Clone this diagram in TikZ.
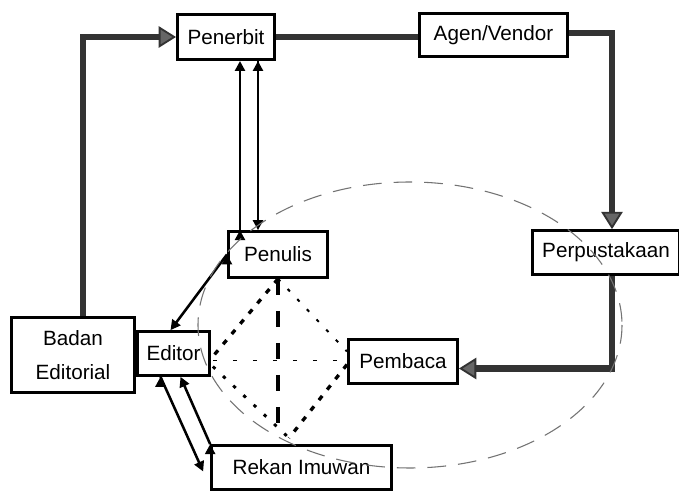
\documentclass[tikz,border=0pt]{standalone}
\usepackage{fontspec}
\setmainfont{Liberation Sans}
\usetikzlibrary{arrows.meta,calc}

\begin{document}
\begin{tikzpicture}[x=0.75pt, y=-0.75pt, line join=miter,
    box/.style = {draw, line width=2pt, inner sep=2pt, font=\fontsize{15.5}{25}\selectfont},
    flowline/.style = {draw=black!80, line width=4.6pt},
    flow/.style = {flowline, -{Triangle[length=13pt,width=16pt,line width=1.4pt,fill=black!60]}},
    link/.style = {draw, line width=1.9pt, -{Triangle[length=7.5pt,width=7.5pt]}},
    heavy/.style = {draw, line width=2.5pt, dash pattern=on 4pt off 6pt},
    dotsb/.style = {draw, line width=2.2pt, dash pattern=on 2.5pt off 8pt},
    dotsa/.style = {draw, line width=1.5pt, dash pattern=on 2.5pt off 8pt},
    hdash/.style = {draw, line width=1.4pt, dash pattern=on 3pt off 12pt},
    vdash/.style = {draw, line width=3pt, dash pattern=on 12pt off 12pt},
    ring/.style = {draw=black!55, line width=0.8pt, dash pattern=on 14pt off 9pt}]
  \useasboundingbox[fill=white] (0,0) rectangle (679,491);

  \node[box, minimum width=73pt, minimum height=34pt] (penerbit) at (226,37) {Penerbit};
  \node[box, minimum width=111pt, minimum height=32.5pt] (agen) at (493.5,35) {Agen/Vendor};
  \node[box, minimum width=110.5pt, minimum height=33pt] (perpus) at (606,252.5) {Perpustakaan};
  \node[box, minimum width=74.5pt, minimum height=34.5pt] (penulis) at (278,254.5) {Penulis};
  \node[box, minimum width=92.5pt, minimum height=56.5pt, align=center] (badan) at (73,355) {Badan\\Editorial};
  \node[box, minimum width=54pt, minimum height=33pt] (editor) at (173.5,353.5) {Editor};
  \node[box, minimum width=82pt, minimum height=33pt] (pembaca) at (403,361.5) {Pembaca};
  \node[box, minimum width=135pt, minimum height=33pt] (rekan) at (301.5,467.5) {Rekan Imuwan};

  \draw[flow] ($(badan.north)+(10,0)$) |- (penerbit.west);
  \draw[flowline] (penerbit.east) -- (penerbit.east -| agen.west);
  \draw[flow] ($(agen.east)+(0,-2)$) -| ($(perpus.north)+(6,0)$);
  \draw[flow] ($(perpus.south)+(6,0)$) |- ($(pembaca.east)+(0,7)$);

  \path[link] ($(penulis.north west)+(13,0)$) edge ($(penerbit.south)+(14,0)$);
  \path[link] ($(penerbit.south)+(32,0)$) edge ($(penulis.north west)+(31,0)$);
  \path[link] (penulis.west) edge ($(editor.north)+(-3,0)$);
  \path[link] ($(editor.south)+(-13,0)$) edge ($(rekan.west)+(-7,4)$);
  \path[link] (rekan.north west) edge ($(editor.south)+(7,0)$);

  \coordinate (btm) at (289,438);
  \path[heavy] (penulis.south) edge ($(editor.east)+(2,3)$);
  \path[dotsb] ($(editor.east)+(2,13)$) edge (btm);
  \path[hdash] ($(editor.east)+(2,7)$) edge ($(pembaca.west)+(0,-1)$);
  \path[dotsa] (penulis.south) edge ($(pembaca.west)+(0,-10)$);
  \path[heavy] ($(pembaca.west)+(0,3)$) edge (btm);
  \path[vdash] (penulis.south) edge ($(penulis.south)+(0,152)$);

  \draw[ring] (410,325) ellipse [x radius=212, y radius=143];
\end{tikzpicture}
\end{document}
